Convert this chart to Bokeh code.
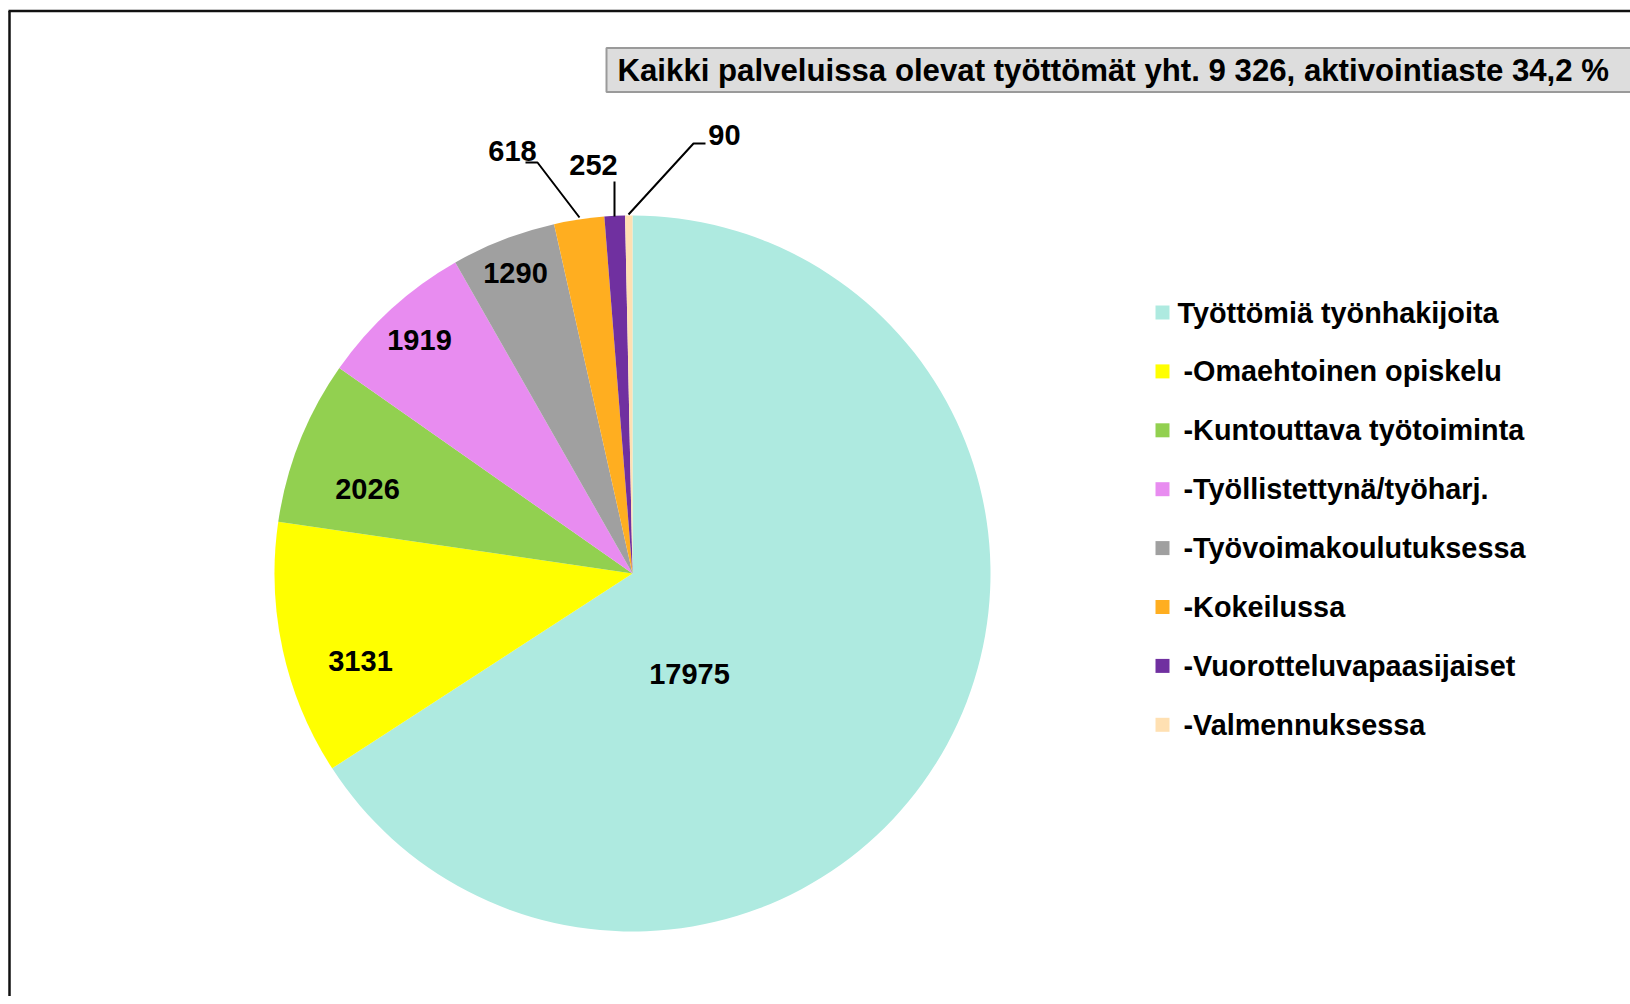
import math
from bokeh.plotting import figure
from bokeh.models import Range1d, ColumnDataSource
from bokeh.core.properties import value
from bokeh.embed import file_html
from bokeh.resources import INLINE

# ---- data ----
categories = [
    "Työttömiä työnhakijoita",
    "-Omaehtoinen opiskelu",
    "-Kuntouttava työtoiminta",
    "-Työllistettynä/työharj.",
    "-Työvoimakoulutuksessa",
    "-Kokeilussa",
    "-Vuorotteluvapaasijaiset",
    "-Valmennuksessa",
]
values = [17975, 3131, 2026, 1919, 1290, 618, 252, 90]
colors = ["#AEEAE0", "#FFFF00", "#92D050", "#E88CF0", "#A0A0A0", "#FFAE20", "#7030A0", "#FFE0B2"]
title_text = "Kaikki palveluissa olevat työttömät yht. 9 326, aktivointiaste 34,2 %"

# ---- layout (screen pixels) ----
W, H = 1630, 996
def sy(y):
    return 1004 - y

CX, CY, R = 632, 573, 358
label_pos = [(689, 673), (360, 660), (367, 488), (419, 339), (515, 272),
             (512, 150), (593, 164), (724, 134)]
leaders = [
    [(525, 162), (537, 162), (579, 217)],
    [(614, 181), (614, 216)],
    [(705, 143), (693, 143), (628, 214)],
]
FONT = value("Liberation Sans")

p = figure(width=W, height=H, output_backend="svg", toolbar_location=None,
           x_range=Range1d(0, W), y_range=Range1d(1004 - H, 1004),
           min_border=0, min_border_left=0, min_border_right=0,
           min_border_top=0, min_border_bottom=0)
p.xaxis.visible = False
p.yaxis.visible = False
p.grid.visible = False
p.outline_line_color = None
p.background_fill_color = "white"
p.border_fill_color = "white"

# frame border (left and top visible)
p.segment(x0=[9, 8], y0=[sy(10.5), sy(10.5)], x1=[9, 1640], y1=[sy(1010), sy(10.5)],
          line_color="#111111", line_width=2.5)

# pie
total = float(sum(values))
starts, ends = [], []
cum = 0.0
for v in values:
    starts.append(math.pi / 2 - 2 * math.pi * cum / total)
    cum += v
    ends.append(math.pi / 2 - 2 * math.pi * cum / total)
src = ColumnDataSource(dict(start=starts, end=ends, color=colors, cat=categories, val=values))
p.wedge(x=CX, y=sy(CY), radius=R, start_angle="start", end_angle="end",
        direction="clock", fill_color="color", line_color=None, source=src)

# leader lines
for pts in leaders:
    p.line(x=[a for a, b in pts], y=[sy(b) for a, b in pts], line_color="black", line_width=2)

# data labels
p.text(x=[a for a, b in label_pos], y=[sy(b) for a, b in label_pos],
       text=[str(v) for v in values], text_font=FONT, text_font_style="bold",
       text_font_size="29px", text_align="center", text_baseline="middle",
       text_color="black")

# title box
p.quad(left=606, right=1660, top=sy(47.5), bottom=sy(91.5), fill_color="#DDDDDD",
       line_color="#9A9A9A", line_width=2)
p.text(x=[617], y=[sy(70)], text=[title_text], text_font=FONT, text_font_style="bold",
       text_font_size="31.2px", text_align="left", text_baseline="middle", text_color="black")

# legend
LX, LY0, DY = 1162, 312, 58.9
ys = [sy(LY0 + i * DY) for i in range(len(categories))]
p.rect(x=[LX] * len(categories), y=ys, width=14, height=14, fill_color=colors, line_color=None)
lx = [1177 if not c.startswith("-") else 1183 for c in categories]
p.text(x=lx, y=ys, text=categories, text_font=FONT, text_font_style="bold",
       text_font_size="28.8px", text_align="left", text_baseline="middle", text_color="black")

open("out.html", "w").write(file_html(p, INLINE))
